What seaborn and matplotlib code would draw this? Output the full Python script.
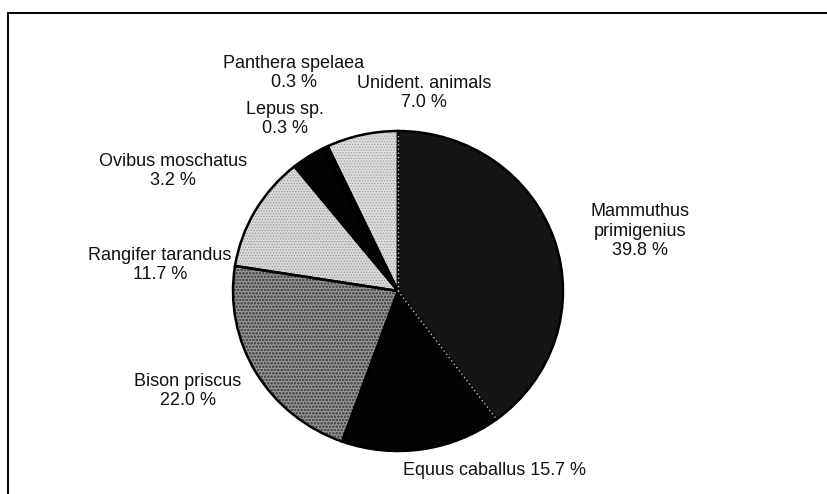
import matplotlib
matplotlib.use("Agg")
import numpy as np
import matplotlib.pyplot as plt
from matplotlib.lines import Line2D
import seaborn as sns

# Faunal composition of the bone assemblage (percent of identified remains)
species = ["Mammuthus primigenius", "Equus caballus", "Bison priscus",
           "Rangifer tarandus", "Ovibus moschatus", "Lepus sp.",
           "Panthera spelaea", "Unident. animals"]
share = [39.8, 15.7, 22.0, 11.7, 3.2, 0.3, 0.3, 7.0]

# How each slice name is broken over lines in its label
label_text = ["Mammuthus\nprimigenius", "Equus caballus", "Bison priscus",
              "Rangifer tarandus", "Ovibus moschatus", "Lepus sp.",
              "Panthera spelaea", "Unident. animals"]

sns.set_theme(style="white")
plt.rcParams["font.family"] = ["Liberation Sans", "DejaVu Sans"]
plt.rcParams["hatch.linewidth"] = 0.6

W, H = 828, 494
fig = plt.figure(figsize=(W / 100, H / 100), dpi=100)
fig.patch.set_facecolor("white")

# pie centre and radii in pixels
cx, cy, rx, ry = 398, 291, 165, 160
ax = fig.add_axes([(cx - rx) / W, (H - cy - ry) / H, 2 * rx / W, 2 * ry / H])

fills = ["#151515", "#030303", "#959595", "#d9d9d9",
         "#030303", "#030303", "#030303", "#dddddd"]
grain = [("", None), ("", None), ("ooooo", "#505050"), ("......", "#9a9a9a"),
         ("", None), ("", None), ("", None), ("......", "#a0a0a0")]

pie_kw = dict(startangle=90, counterclock=False)
wedges, _ = ax.pie(share, colors=fills,
                   wedgeprops=dict(edgecolor="none", linewidth=0), **pie_kw)

# stippled grain on the grey slices
tex, _ = ax.pie(share, colors=["none"] * len(share),
                wedgeprops=dict(linewidth=0), **pie_kw)
for w, (h, c) in zip(tex, grain):
    if h:
        w.set_hatch(h)
        w.set_edgecolor(c)
    else:
        w.set_visible(False)

# black outlines on top
edges, _ = ax.pie(share, colors=["none"] * len(share),
                  wedgeprops=dict(edgecolor="black", linewidth=1.8), **pie_kw)

# faint dotted seams along both straight sides of the mammoth slice
m = wedges[0]
for th in (m.theta1, m.theta2):
    t = np.deg2rad(th)
    ax.plot([0, 0.99 * np.cos(t)], [0, 0.99 * np.sin(t)], color="#c8c8c8",
            linestyle=(0, (1, 2)), linewidth=1.0, zorder=5)

ax.set_aspect("auto")
ax.set_xlim(-1.0, 1.0)
ax.set_ylim(-1.0, 1.0)
ax.axis("off")

# label anchors (pixel centres of each text block)
label_pos = {
    "Mammuthus primigenius": (640, 231),
    "Equus caballus": (495, 470),
    "Bison priscus": (188, 391),
    "Rangifer tarandus": (160, 265),
    "Ovibus moschatus": (173, 171),
    "Lepus sp.": (285, 119),
    "Panthera spelaea": (294, 73),
    "Unident. animals": (424, 93),
}

for name, txt, val in zip(species, label_text, share):
    x, y = label_pos[name]
    if name == "Equus caballus":
        s = f"{txt} {val:.1f} %"
    else:
        s = f"{txt}\n{val:.1f} %"
    fig.text(x / W, 1 - y / H, s, ha="center", va="center",
             multialignment="center", fontsize=13, color="#111111",
             linespacing=1.2)

# open frame: top and left border lines
fig.add_artist(Line2D([8 / W, 1.0], [1 - 13 / H, 1 - 13 / H],
                      color="black", linewidth=1.4))
fig.add_artist(Line2D([8 / W, 8 / W], [0, 1 - 13 / H],
                      color="black", linewidth=1.4))

fig.savefig("out.png", dpi=100, facecolor="white")
